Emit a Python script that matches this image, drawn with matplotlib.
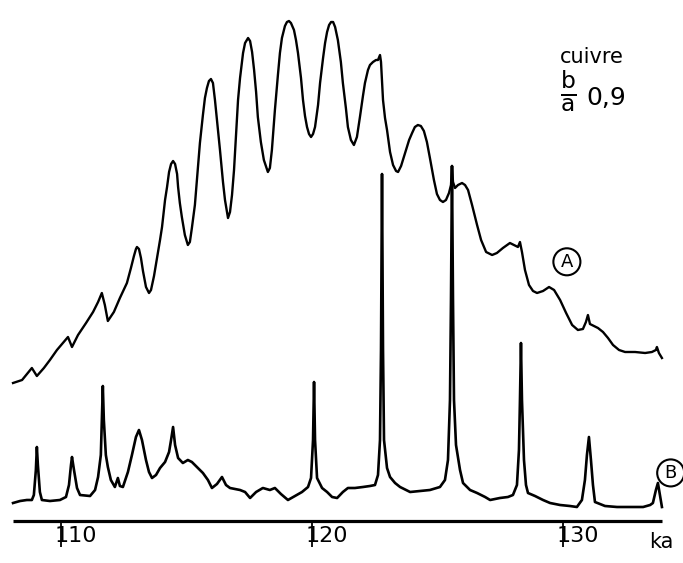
import matplotlib.pyplot as plt
from matplotlib.transforms import offset_copy

# courbe A (enveloppe)
ka_A = [108.07, 108.43, 108.66, 108.82, 109.02, 109.30, 109.54, 109.82, 110.06, 110.26,
        110.42, 110.66, 110.98, 111.26, 111.46, 111.61, 111.73, 111.85, 112.09, 112.33,
        112.61, 112.77, 112.89, 112.97, 113.01, 113.09, 113.17, 113.25, 113.37, 113.49,
        113.57, 113.69, 113.81, 113.93, 114.01, 114.13, 114.21, 114.29, 114.37, 114.45,
        114.53, 114.61, 114.65, 114.72, 114.80, 114.92, 115.04, 115.12, 115.20, 115.32,
        115.44, 115.52, 115.64, 115.72, 115.80, 115.88, 115.96, 116.04, 116.12, 116.20,
        116.32, 116.44, 116.52, 116.64, 116.72, 116.80, 116.88, 116.96, 117.04, 117.12,
        117.24, 117.32, 117.44, 117.52, 117.60, 117.68, 117.76, 117.83, 117.95, 118.07,
        118.23, 118.31, 118.39, 118.51, 118.63, 118.71, 118.79, 118.91, 118.99, 119.07,
        119.15, 119.27, 119.35, 119.43, 119.55, 119.63, 119.71, 119.79, 119.87, 119.95,
        120.03, 120.11, 120.23, 120.31, 120.43, 120.51, 120.59, 120.67, 120.75, 120.83,
        120.91, 121.02, 121.14, 121.22, 121.34, 121.42, 121.54, 121.66, 121.78, 121.90,
        122.02, 122.10, 122.22, 122.30, 122.42, 122.54, 122.62, 122.70, 122.74, 122.82,
        122.90, 122.98, 123.10, 123.22, 123.34, 123.42, 123.54, 123.70, 123.86, 123.98,
        124.09, 124.21, 124.33, 124.45, 124.57, 124.69, 124.85, 124.97, 125.09, 125.21,
        125.33, 125.45, 125.53, 125.57, 125.61, 125.69, 125.81, 125.97, 126.09, 126.21,
        126.37, 126.57, 126.73, 126.93, 127.17, 127.36, 127.60, 127.88, 128.04, 128.20,
        128.28, 128.36, 128.48, 128.64, 128.80, 128.96, 129.20, 129.44, 129.64, 129.88,
        130.12, 130.36, 130.59, 130.79, 130.91, 130.99, 131.07, 131.23, 131.39, 131.59,
        131.79, 131.99, 132.23, 132.47, 132.87, 133.27, 133.54, 133.70, 133.74, 133.82,
        133.94]
int_A = [13.8, 14.1, 14.8, 15.3, 14.5, 15.3, 16.1, 17.1, 17.8, 18.4,
         17.4, 18.6, 19.8, 20.9, 21.9, 22.8, 21.6, 20.0, 20.9, 22.3,
         23.8, 25.3, 26.5, 27.2, 27.4, 27.2, 26.3, 25.0, 23.4, 22.8,
         23.1, 24.5, 26.3, 28.1, 29.4, 32.1, 33.4, 34.9, 35.7, 36.0,
         35.7, 34.7, 33.4, 31.8, 30.4, 28.6, 27.6, 27.9, 29.3, 31.6,
         35.3, 37.8, 40.6, 42.3, 43.3, 44.0, 44.2, 43.8, 42.1, 40.1,
         37.1, 33.9, 32.1, 30.3, 30.9, 32.6, 35.1, 38.6, 42.1, 44.3,
         46.8, 47.8, 48.3, 48.0, 46.9, 45.1, 42.9, 40.4, 37.9, 36.1,
         34.9, 35.3, 37.1, 41.1, 44.6, 46.8, 48.3, 49.5, 49.9, 50.0,
         49.8, 49.1, 48.1, 46.8, 44.3, 42.1, 40.5, 39.4, 38.7, 38.4,
         38.7, 39.4, 41.6, 43.8, 46.3, 47.8, 48.9, 49.6, 49.9, 49.9,
         49.4, 48.1, 45.9, 43.8, 41.3, 39.4, 38.1, 37.6, 38.4, 40.4,
         42.5, 43.8, 45.1, 45.6, 45.9, 46.1, 46.1, 46.6, 45.9, 42.1,
         40.3, 39.1, 36.9, 35.6, 35.0, 34.9, 35.5, 36.8, 38.1, 38.8,
         39.4, 39.6, 39.5, 39.0, 37.9, 36.3, 34.1, 32.7, 32.1, 31.9,
         32.1, 32.8, 33.6, 35.5, 33.9, 33.3, 33.6, 33.8, 33.6, 33.1,
         31.6, 29.6, 28.1, 26.9, 26.6, 26.8, 27.3, 27.8, 27.6, 27.4,
         27.9, 26.9, 25.1, 23.6, 23.0, 22.8, 23.0, 23.4, 23.1, 22.1,
         20.8, 19.6, 19.1, 19.2, 19.9, 20.6, 19.7, 19.5, 19.3, 18.9,
         18.3, 17.6, 17.1, 16.9, 16.9, 16.8, 16.9, 17.1, 17.4, 16.8,
         16.3]

# courbe B (raies)
ka_B = [108.07, 108.35, 108.62, 108.82, 108.90, 108.98, 109.02, 109.06, 109.14, 109.22,
        109.54, 109.94, 110.18, 110.30, 110.38, 110.42, 110.50, 110.62, 110.74, 111.14,
        111.34, 111.46, 111.57, 111.61, 111.65, 111.69, 111.77, 111.85, 111.97, 112.13,
        112.25, 112.33, 112.45, 112.57, 112.65, 112.81, 112.97, 113.09, 113.21, 113.37,
        113.49, 113.61, 113.77, 113.93, 114.13, 114.29, 114.37, 114.45, 114.53, 114.65,
        114.84, 115.04, 115.20, 115.40, 115.64, 115.84, 116.00, 116.20, 116.40, 116.56,
        116.72, 117.12, 117.32, 117.52, 117.76, 118.03, 118.31, 118.51, 118.75, 119.03,
        119.31, 119.59, 119.83, 119.95, 120.03, 120.07, 120.11, 120.19, 120.39, 120.59,
        120.79, 120.99, 121.22, 121.42, 121.70, 122.02, 122.30, 122.50, 122.62, 122.70,
        122.74, 122.78, 122.82, 122.86, 122.98, 123.10, 123.30, 123.50, 123.90, 124.29,
        124.69, 125.09, 125.29, 125.41, 125.49, 125.53, 125.57, 125.61, 125.65, 125.73,
        125.89, 126.01, 126.29, 126.57, 126.89, 127.09, 127.48, 127.80, 128.00, 128.16,
        128.24, 128.28, 128.32, 128.36, 128.44, 128.52, 128.60, 128.88, 129.20, 129.48,
        129.88, 130.27, 130.55, 130.75, 130.87, 130.95, 131.03, 131.11, 131.19, 131.27,
        131.67, 132.15, 132.67, 133.19, 133.47, 133.58, 133.70, 133.78, 133.86, 133.94]
int_B = [1.8, 2.0, 2.1, 2.1, 2.6, 5.1, 7.4, 5.6, 2.9, 2.1,
         2.0, 2.1, 2.4, 3.6, 5.6, 6.4, 5.1, 3.3, 2.6, 2.5,
         3.1, 4.4, 6.6, 10.1, 13.5, 10.1, 6.6, 5.4, 4.1, 3.4,
         4.3, 3.5, 3.4, 4.3, 4.9, 6.6, 8.4, 9.1, 8.1, 6.1,
         4.9, 4.3, 4.6, 5.3, 5.9, 6.9, 8.1, 9.4, 7.6, 6.3,
         5.8, 6.1, 5.9, 5.4, 4.8, 4.1, 3.3, 3.7, 4.4, 3.6,
         3.3, 3.1, 2.9, 2.3, 2.9, 3.3, 3.1, 3.3, 2.7, 2.1,
         2.5, 2.9, 3.4, 4.3, 8.1, 13.9, 8.1, 4.3, 3.3, 2.9,
         2.4, 2.3, 2.9, 3.3, 3.3, 3.4, 3.5, 3.6, 4.6, 8.1,
         17.1, 34.7, 17.1, 8.1, 5.3, 4.4, 3.8, 3.4, 2.9, 3.0,
         3.1, 3.4, 4.1, 6.1, 12.1, 22.1, 35.5, 22.1, 12.1, 7.6,
         5.1, 3.8, 3.1, 2.8, 2.4, 2.1, 2.3, 2.4, 2.6, 3.6,
         7.1, 12.1, 17.8, 12.1, 6.1, 3.6, 2.8, 2.5, 2.1, 1.8,
         1.6, 1.5, 1.4, 2.1, 4.1, 6.6, 8.4, 6.1, 3.6, 1.9,
         1.5, 1.4, 1.4, 1.4, 1.6, 1.8, 3.1, 3.8, 2.6, 1.4]

ticks = [110, 120, 130]
tick_labels = ["110", "120", "130"]

plt.rcParams["font.family"] = "DejaVu Sans"

fig = plt.figure(figsize=(6.83, 5.63), dpi=100)
ax = fig.add_axes([0, 0, 1, 1])
ax.set_xlim(107.55, 134.78)
ax.set_ylim(-4.2, 52.1)
ax.axis("off")

args = dict(color="k", solid_joinstyle="round")
ax.plot(ka_A, int_A, lw=1.7, **args)
ax.plot(ka_B, int_B, lw=1.9, **args)

# axe des abscisses
ax.plot([ka_A[0], ka_A[-1]], [0, 0], lw=2.3, color="k", solid_capstyle="butt")
ax.vlines(ticks, -2.6, 0, lw=1.3, color="k")

txt = dict(color="k")
lab_tr = offset_copy(ax.transData, fig=fig, x=-7, y=0, units="dots")
for t, lab in zip(ticks, tick_labels):
    ax.text(t, -0.5, lab, transform=lab_tr, ha="left", va="top",
            fontsize=16, **txt)

ax.text(0.951, 0.027, "ka", transform=ax.transAxes, fontsize=15,
        ha="left", va="baseline", **txt)

ax.text(0.820, 0.888, "cuivre", transform=ax.transAxes, fontsize=15,
        ha="left", va="baseline", **txt)
ax.text(0.832, 0.838, r"$\frac{\mathrm{b}}{\mathrm{a}}$", transform=ax.transAxes,
        fontsize=24, ha="center", va="center", **txt)
ax.text(0.859, 0.8135, "0,9", transform=ax.transAxes, fontsize=18,
        ha="left", va="baseline", **txt)

circ = dict(boxstyle="circle,pad=0.25", fc="none", ec="k", lw=1.5)
ax.text(0.830, 0.535, "A", transform=ax.transAxes, fontsize=13,
        ha="center", va="center", bbox=circ, **txt)
ax.text(0.982, 0.160, "B", transform=ax.transAxes, fontsize=13,
        ha="center", va="center", bbox=circ, **txt)

fig.savefig("out.png", dpi=100)
